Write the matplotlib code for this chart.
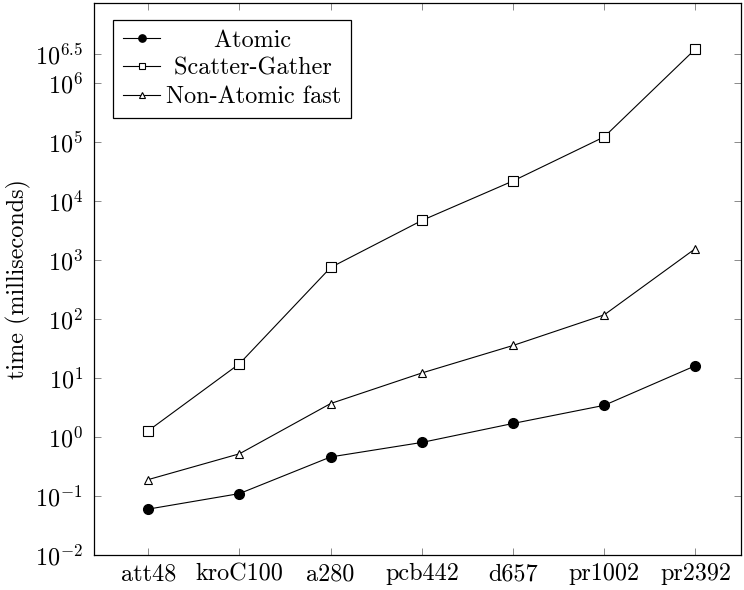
import matplotlib
matplotlib.use("Agg")
import matplotlib.pyplot as plt
from matplotlib.ticker import FixedLocator, FixedFormatter, NullLocator

plt.rcParams['font.family'] = ['cmr10', 'DejaVu Serif']
plt.rcParams['mathtext.fontset'] = 'cm'
plt.rcParams['axes.formatter.use_mathtext'] = True

instances = ["att48", "kroC100", "a280", "pcb442", "d657", "pr1002", "pr2392"]
atomic = [0.06, 0.11, 0.46, 0.81, 1.7, 3.45, 16.2]
scatter_gather = [1.28, 17.5, 750, 4700, 22000, 123000, 3.8e6]
non_atomic_fast = [0.19, 0.52, 3.7, 12.2, 35.7, 118, 1570]
ytick_vals = [1e-2, 1e-1, 1e0, 1e1, 1e2, 1e3, 1e4, 1e5, 1e6, 10**6.5]
ytick_labels = [r"$10^{-2}$", r"$10^{-1}$", r"$10^{0}$", r"$10^{1}$", r"$10^{2}$",
                r"$10^{3}$", r"$10^{4}$", r"$10^{5}$", r"$10^{6}$", r"$10^{6.5}$"]

fig = plt.figure(figsize=(7.44, 5.9), dpi=100)
ax = fig.add_axes([94/744, 1-555/590, (741-94)/744, (555-3)/590])

x = list(range(len(instances)))
lw = 0.8
ax.plot(x, atomic, color='black', lw=lw, marker='o', markersize=7,
        markerfacecolor='black', markeredgecolor='black', label="Atomic")
ax.plot(x, scatter_gather, color='black', lw=lw, marker='s', markersize=6.6,
        markerfacecolor='white', markeredgecolor='black', markeredgewidth=0.8,
        label="Scatter-Gather")
ax.plot(x, non_atomic_fast, color='black', lw=lw, marker='^', markersize=5.5,
        markerfacecolor='white', markeredgecolor='black', markeredgewidth=0.8,
        label="Non-Atomic fast")

fs = 17.4
ax.set_yscale('log')
ax.set_ylim(1e-2, 10**7.36)
ax.set_xlim(-0.595, 6.5)
ax.yaxis.set_major_locator(FixedLocator(ytick_vals))
ax.yaxis.set_major_formatter(FixedFormatter(ytick_labels))
ax.yaxis.set_minor_locator(NullLocator())
ax.set_xticks(x)
ax.set_xticklabels(instances)
ax.tick_params(axis='both', which='major', direction='in', top=True, right=True,
               length=5, width=0.6, color='#777777', labelsize=fs)
ax.tick_params(axis='y', pad=8)
ax.tick_params(axis='x', pad=6)
for s in ax.spines.values():
    s.set_linewidth(0.9)
ax.set_ylabel("time (milliseconds)", fontsize=fs, labelpad=3)

leg = ax.legend(loc='upper left', bbox_to_anchor=(19.3/647, 1-17/552), fancybox=False,
                edgecolor='black', framealpha=1, fontsize=fs, handlelength=1.55,
                handletextpad=0.22, borderpad=0.4, labelspacing=0.25, borderaxespad=0,
                markerscale=0.75)
leg.get_frame().set_linewidth(0.9)

# center legend labels like pgfplots
fig.canvas.draw()
r = fig.canvas.get_renderer()
texts = leg.get_texts()
widths = [t.get_window_extent(r).width for t in texts]
maxw = max(widths)
orig = [t.get_text() for t in texts]
t0 = texts[0]
t0.set_text(" " + orig[0])
sw = t0.get_window_extent(r).width - widths[0]
t0.set_text(orig[0])
for t, w, o in zip(texts, widths, orig):
    n = int(round((maxw - w) / 2 / sw)) if sw > 0 else 0
    t.set_text(" " * n + o)

fig.savefig("out.png", dpi=100)
